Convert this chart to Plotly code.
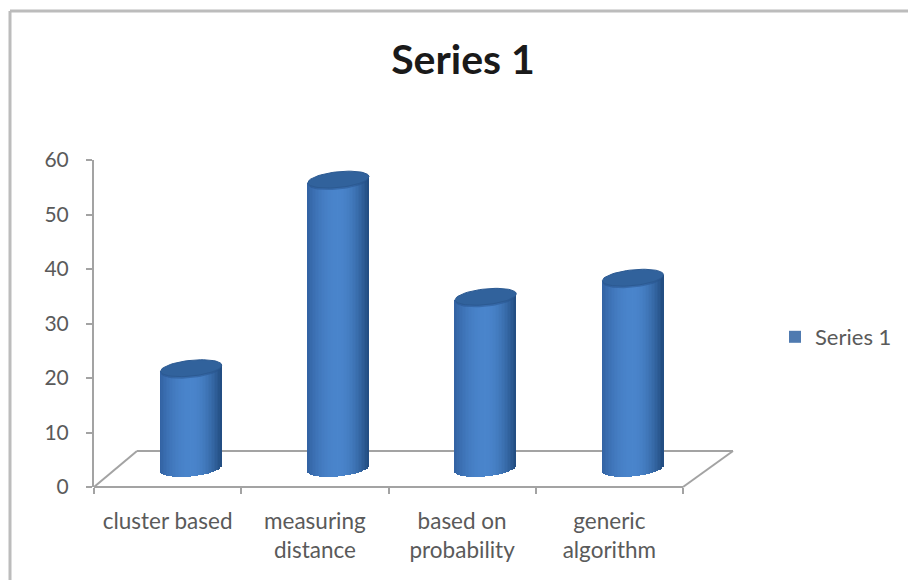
import numpy as np
import plotly.graph_objects as go

# Chart content
categories = ["cluster based", "measuring<br>distance", "based on<br>probability", "generic<br>algorithm"]
series_name = "Series 1"
series_values = [18.4, 53.0, 31.5, 35.0]
y_ticks = [0, 10, 20, 30, 40, 50, 60]

# Pseudo-3D geometry, in axis units
FLOOR_DX = 0.292      # floor depth, horizontal
FLOOR_DY = 6.6        # floor depth, vertical
BAR_SHIFT = 0.16      # bars stand in the middle of the floor
BAR_LIFT = 3.4        # height of the floor centre line above the front edge
BAR_WIDTH = 0.415
CAP_B = 1.45          # vertical half axis of the cylinder ends
CAP_TILT = 0.55       # ends lean up towards the right
X_MAX = 4 * 639 / 589
STRIPS = 41

AXIS_GREY = "#a3a3a3"
TEXT_GREY = "#5a5a5a"


def shade(u):
    """Colour across the cylinder, u running from -1 (left) to 1 (right)."""
    edge_l = np.array([50, 98, 162])
    edge_r = np.array([34, 76, 128])
    mid = np.array([74, 133, 204])
    t = abs(u) ** 2
    end = edge_l if u < 0 else edge_r
    rgb = mid * (1 - t) + end * t
    return "rgb(%d,%d,%d)" % tuple(rgb)


def ellipse(cx, cy, scale=1.0):
    t = np.linspace(0, 2 * np.pi, 61)
    x = cx + scale * BAR_WIDTH / 2 * np.cos(t)
    y = cy + scale * CAP_B * np.sin(t) + CAP_TILT * np.cos(t)
    return x, y


fig = go.Figure()

# Cylinder bodies: one narrow bar per strip, giving the rounded shading
strip_x, strip_h, strip_base, strip_w, strip_c = [], [], [], [], []
for i, value in enumerate(series_values):
    cx = i + 0.5 + BAR_SHIFT
    for u in np.linspace(-1, 1, STRIPS):
        u = float(u) * (1 - 1 / STRIPS)
        top = BAR_LIFT + value + CAP_TILT * u
        bottom = BAR_LIFT + CAP_TILT * u - CAP_B * np.sqrt(max(1 - u * u, 0))
        strip_x.append(cx + u * BAR_WIDTH / 2)
        strip_base.append(bottom)
        strip_h.append(top - bottom)
        strip_w.append(BAR_WIDTH / STRIPS * 1.25)
        strip_c.append(shade(u))

fig.add_trace(go.Bar(
    x=strip_x, y=strip_h, base=strip_base, width=strip_w,
    marker=dict(color=strip_c, line_width=0),
    showlegend=False, hoverinfo="skip",
))

# Legend entry for the series
fig.add_trace(go.Bar(
    x=[None], y=[None], name=series_name,
    marker=dict(color="#4f7ab0", line_width=0),
))

# Cylinder tops: soft shadow under the rim, then the darker lid
for i, value in enumerate(series_values):
    cx = i + 0.5 + BAR_SHIFT
    top = BAR_LIFT + value
    sx, sy = ellipse(cx, top - 0.4, 0.98)
    fig.add_trace(go.Scatter(
        x=sx, y=sy, mode="lines", fill="toself",
        fillcolor="rgba(38,82,140,0.5)", line_width=0,
        showlegend=False, hoverinfo="skip",
    ))
    lx, ly = ellipse(cx, top)
    fig.add_trace(go.Scatter(
        x=lx, y=ly, mode="lines", fill="toself",
        fillcolor="#31629c", line=dict(color="#2c5a92", width=1),
        showlegend=False, hoverinfo="skip",
    ))


def px(x):
    return x / X_MAX


def py(y):
    return y / 60


floor_lines = [
    (0, 0, 4, 0),
    (0, 0, FLOOR_DX, FLOOR_DY),
    (FLOOR_DX, FLOOR_DY, X_MAX, FLOOR_DY),
    (4, 0, X_MAX, FLOOR_DY),
]
shapes = [
    dict(type="line", xref="paper", yref="paper", layer="below",
         x0=px(a), y0=py(b), x1=px(c), y1=py(d),
         line=dict(color=AXIS_GREY, width=2))
    for a, b, c, d in floor_lines
]

# Outer chart frame, open towards the right and the bottom
plot_w, plot_h = 639, 327
frame_x = (10 - 94) / plot_w
frame_y = 1 + (160 - 11) / plot_h
shapes += [
    dict(type="line", xref="paper", yref="paper", x0=frame_x, x1=frame_x,
         y0=(487 - 585) / plot_h, y1=frame_y, line=dict(color="#bcbcbc", width=3)),
    dict(type="line", xref="paper", yref="paper", x0=frame_x, x1=(915 - 94) / plot_w,
         y0=frame_y, y1=frame_y, line=dict(color="#bcbcbc", width=3)),
]

fig.update_layout(
    width=908, height=580,
    margin=dict(l=94, r=175, t=160, b=93, autoexpand=False),
    paper_bgcolor="white", plot_bgcolor="white",
    barmode="overlay", bargap=0,
    font=dict(family="Lato", color=TEXT_GREY, size=19),
    title=dict(
        text="<b>" + series_name + "</b>", x=463 / 908, xanchor="center",
        y=1 - 60 / 580, yanchor="middle",
        font=dict(family="Lato", size=41, color="#1a1a1a"),
    ),
    xaxis=dict(
        range=[0, X_MAX], showgrid=False, zeroline=False, showline=False,
        tickmode="array", tickvals=[0.5, 1.5, 2.5, 3.5], ticktext=categories,
        ticks="", ticklen=0, ticklabelstandoff=18,
        minor=dict(tickmode="array", tickvals=[0, 1, 2, 3, 4], ticks="outside",
                   ticklen=6, tickwidth=2, tickcolor=AXIS_GREY, showgrid=False),
        tickfont=dict(size=22.5, color=TEXT_GREY),
    ),
    yaxis=dict(
        range=[0, 60], showgrid=False, zeroline=False, showline=True,
        linecolor=AXIS_GREY, linewidth=2, ticklabelstandoff=13,
        tickmode="array", tickvals=y_ticks, ticks="outside", ticklen=6,
        tickwidth=2, tickcolor=AXIS_GREY, tickfont=dict(size=21, color=TEXT_GREY),
    ),
    legend=dict(
        x=(775 - 94) / plot_w, xanchor="left", y=1 - (337 - 160) / plot_h,
        yanchor="middle", font=dict(size=22, color=TEXT_GREY),
        bgcolor="rgba(0,0,0,0)", itemwidth=30,
    ),
    shapes=shapes,
)

fig.write_html("out.html")
